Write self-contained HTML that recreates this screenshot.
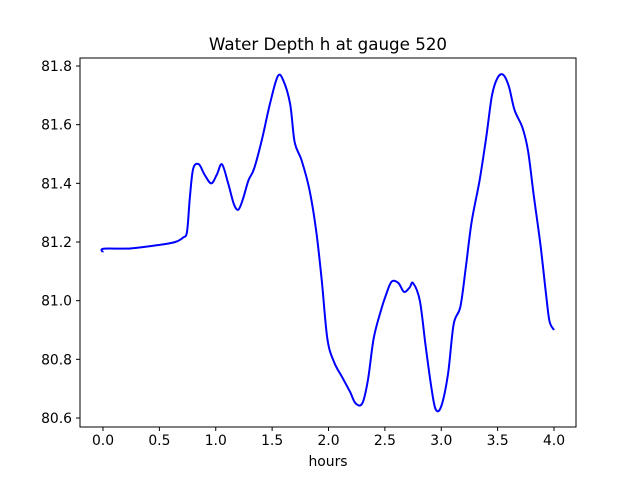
<!DOCTYPE html>
<html><head><meta charset="utf-8"><style>
body{margin:0;background:#fff;}
svg{font-family:"DejaVu Sans","Liberation Sans",sans-serif;}
</style></head><body>
<svg id="chart" width="640" height="480" viewBox="0 0 640 480" xmlns="http://www.w3.org/2000/svg">
<rect width="640" height="480" fill="#fff"/>
<text x="328" y="50" text-anchor="middle" font-size="16.7">Water Depth h at gauge 520</text>
<text x="328" y="466" text-anchor="middle" font-size="13.9">hours</text>
<g id="ticks"></g>
<path id="line" fill="none" stroke="#0000ff" stroke-width="2" stroke-linejoin="round"/>
<rect x="80" y="58" width="496" height="369" fill="none" stroke="#000" stroke-width="1"/>
</svg>
<script>
const hours=[0,0.005,0.24,0.5,0.64,0.71,0.745,0.77,0.8,0.85,0.9,0.96,1.01,1.055,1.11,1.16,1.2,1.24,1.29,1.34,1.41,1.48,1.55,1.6,1.66,1.7,1.76,1.83,1.89,1.94,1.99,2.05,2.12,2.19,2.24,2.3,2.35,2.4,2.46,2.51,2.56,2.62,2.67,2.72,2.75,2.81,2.86,2.91,2.95,3.0,3.06,3.11,3.17,3.22,3.27,3.34,3.4,3.45,3.5,3.55,3.6,3.65,3.72,3.77,3.82,3.88,3.93,3.96,4.0];
const depth=[81.165,81.177,81.178,81.19,81.2,81.215,81.235,81.35,81.45,81.465,81.43,81.4,81.43,81.465,81.4,81.33,81.31,81.345,81.41,81.45,81.55,81.67,81.765,81.75,81.67,81.54,81.48,81.38,81.24,81.07,80.87,80.79,80.74,80.69,80.65,80.65,80.73,80.87,80.96,81.02,81.065,81.06,81.03,81.045,81.06,81.0,80.85,80.71,80.63,80.64,80.75,80.92,80.98,81.12,81.27,81.41,81.56,81.7,81.76,81.77,81.73,81.65,81.59,81.51,81.36,81.19,81.02,80.93,80.9];
const xTicks=[0,0.5,1,1.5,2,2.5,3,3.5,4];
const xTickLabels=["0.0","0.5","1.0","1.5","2.0","2.5","3.0","3.5","4.0"];
const yTicks=[80.6,80.8,81.0,81.2,81.4,81.6,81.8];
const yTickLabels=["80.6","80.8","81.0","81.2","81.4","81.6","81.8"];
const X=v=>103+(v-0)*(554-103)/4;
const Y=v=>418-(v-80.6)*(418-66)/1.2;
const NS="http://www.w3.org/2000/svg";
const g=document.getElementById('ticks');
function mk(tag,attrs){const e=document.createElementNS(NS,tag);for(const k in attrs)e.setAttribute(k,attrs[k]);return e;}
xTicks.forEach((t,i)=>{
  const l=mk('line',{x1:X(t),x2:X(t),y1:427,y2:431,stroke:'#000'});
  
  
  g.appendChild(l);
  const tx=mk('text',{x:X(t),y:445,'text-anchor':'middle','font-size':'13.9'});
  
  
  tx.textContent=xTickLabels[i];g.appendChild(tx);
});
yTicks.forEach((t,i)=>{
  const l=mk('line',{x1:76,x2:80,y1:Y(t),y2:Y(t),stroke:'#000'});
  
  
  g.appendChild(l);
  const tx=mk('text',{x:72,y:Y(t)+5,'text-anchor':'end','font-size':'13.9'});
  
  
  tx.textContent=yTickLabels[i];g.appendChild(tx);
});
const pts=hours.map((h,i)=>[X(h),Y(depth[i])]);
let d='M'+pts[0][0]+','+pts[0][1];
for(let i=0;i<pts.length-1;i++){
  const p0=pts[Math.max(0,i-1)],p1=pts[i],p2=pts[i+1],p3=pts[Math.min(pts.length-1,i+2)];
  const c1=[p1[0]+(p2[0]-p0[0])/6,p1[1]+(p2[1]-p0[1])/6];
  const c2=[p2[0]-(p3[0]-p1[0])/6,p2[1]-(p3[1]-p1[1])/6];
  d+=' C'+c1[0]+','+c1[1]+' '+c2[0]+','+c2[1]+' '+p2[0]+','+p2[1];
}
document.getElementById('line').setAttribute('d',d);
</script>
</body></html>
